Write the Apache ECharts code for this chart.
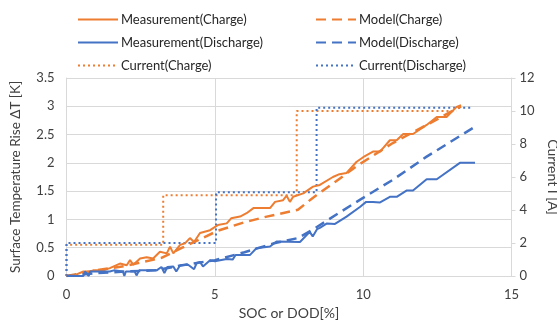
<!DOCTYPE html>
<html>
<head>
<meta charset="utf-8">
<script src="https://cdn.jsdelivr.net/npm/echarts@6/dist/echarts.min.js"></script>
<style>
  html, body { margin: 0; padding: 0; background: #fff; }
  #chart { width: 557px; height: 320px; }
</style>
</head>
<body>
<div id="chart"></div>
<script>
// 数据
const measChargeX = [0, 0.3, 0.57, 0.8, 0.9, 1.24, 1.46, 1.8, 2.03, 2.14, 2.25, 2.48, 2.7, 2.92, 3.15, 3.38, 3.49, 3.6, 3.83, 4.0, 4.16, 4.3, 4.5, 4.84, 5.1, 5.4, 5.55, 5.85, 6.07, 6.3, 6.86, 7.03, 7.3, 7.42, 7.53, 7.64, 7.98, 8.31, 8.54, 8.98, 9.2, 9.44, 9.78, 10.0, 10.33, 10.57, 10.9, 11.13, 11.35, 11.68, 12.14, 12.48, 12.81, 13.15, 13.3];
const measChargeY = [0, 0.02, 0.08, 0.08, 0.1, 0.1, 0.14, 0.22, 0.19, 0.28, 0.2, 0.31, 0.33, 0.31, 0.43, 0.4, 0.52, 0.4, 0.55, 0.58, 0.67, 0.6, 0.76, 0.81, 0.9, 0.93, 1.02, 1.05, 1.11, 1.2, 1.2, 1.31, 1.34, 1.42, 1.31, 1.4, 1.46, 1.58, 1.61, 1.75, 1.8, 1.82, 2.02, 2.1, 2.2, 2.2, 2.4, 2.4, 2.51, 2.51, 2.67, 2.81, 2.81, 2.99, 3.02];

const modelChargeX = [0, 1, 2, 3.2, 3.9, 5.1, 6.0, 6.75, 7.8, 8.3, 9.1, 9.8, 11, 12.14, 13.3];
const modelChargeY = [0, 0.1, 0.18, 0.32, 0.5, 0.8, 0.95, 1.05, 1.17, 1.38, 1.68, 1.95, 2.35, 2.67, 3.0];

const measDischargeX = [0, 0.57, 0.62, 0.75, 0.8, 1.46, 1.6, 1.9, 1.95, 2.0, 2.3, 2.36, 2.45, 2.7, 3.04, 3.2, 3.3, 3.4, 3.6, 3.7, 3.83, 4.1, 4.3, 4.39, 4.5, 4.6, 4.84, 5.0, 5.4, 5.6, 5.7, 6.18, 6.4, 6.86, 7.08, 7.87, 8.2, 8.3, 8.45, 8.54, 8.78, 9.05, 9.44, 9.89, 10.1, 10.33, 10.57, 10.9, 11.13, 11.46, 11.68, 12.14, 12.48, 13.26, 13.77];
const measDischargeY = [0, 0, 0.08, 0.0, 0.08, 0.08, 0.1, 0.08, 0.0, 0.08, 0.08, 0.01, 0.1, 0.1, 0.1, 0.16, 0.05, 0.16, 0.17, 0.08, 0.19, 0.2, 0.12, 0.23, 0.25, 0.17, 0.28, 0.26, 0.3, 0.29, 0.37, 0.37, 0.49, 0.52, 0.61, 0.6, 0.78, 0.7, 0.83, 0.85, 0.93, 0.92, 1.05, 1.22, 1.31, 1.31, 1.3, 1.4, 1.4, 1.51, 1.51, 1.71, 1.71, 2.0, 2.0];

const modelDischargeX = [0, 1, 2, 3, 4, 5, 6, 7, 7.8, 8.3, 9.2, 9.9, 11, 12.14, 13.77];
const modelDischargeY = [0, 0.05, 0.08, 0.1, 0.2, 0.28, 0.42, 0.58, 0.67, 0.82, 1.12, 1.35, 1.7, 2.11, 2.64];

const currChargeX = [0, 0, 3.26, 7.76, 13.15];
const currChargeY = [0, 1.9, 4.9, 10.0, 10.0];
const currDischargeX = [0, 0, 5.04, 8.43, 13.66];
const currDischargeY = [0, 2.0, 5.07, 10.2, 10.2];

const ORANGE = '#ED7D31';
const BLUE = '#4472C4';
const FONT = 'Lato';

function pairs(xs, ys) {
    return xs.map((x, i) => [x, ys[i]]);
}

const chart = echarts.init(document.getElementById('chart'));

const legendCommon = {
    orient: 'vertical',
    itemWidth: 40,
    itemHeight: 12,
    itemGap: 10,
    itemStyle: { opacity: 0 },
    textStyle: { fontFamily: FONT, fontSize: 13, color: '#262626', padding: [0, 0, 0, -2] },
    selectedMode: false
};

const option = {
    animation: false,
    textStyle: { fontFamily: FONT },
    legend: [
        Object.assign({ left: 72, top: 8, data: ['Measurement(Charge)', 'Measurement(Discharge)', 'Current(Charge)'] }, legendCommon),
        Object.assign({ left: 310, top: 8, data: ['Model(Charge)', 'Model(Discharge)', 'Current(Discharge)'] }, legendCommon)
    ],
    grid: { left: 66.5, right: 45.5, top: 78, bottom: 44, outerBoundsMode: 'none', containLabel: false },
    xAxis: {
        type: 'value',
        min: 0, max: 15, interval: 5,
        name: 'SOC or DOD[%]',
        nameLocation: 'middle',
        nameGap: 30,
        nameTextStyle: { fontFamily: FONT, fontSize: 14, color: '#404040' },
        axisLine: { lineStyle: { color: '#D9D9D9' } },
        axisTick: { show: false },
        axisLabel: { fontFamily: FONT, fontSize: 13, color: '#404040', margin: 12 },
        splitLine: { lineStyle: { color: '#D9D9D9' } }
    },
    yAxis: [
        {
            type: 'value',
            min: 0, max: 3.5, interval: 0.5,
            name: 'Surface Temperature Rise ΔT [K]',
            nameLocation: 'middle',
            nameGap: 44,
            nameTextStyle: { fontFamily: FONT, fontSize: 13.5, color: '#404040' },
            axisLine: { show: true, lineStyle: { color: '#D9D9D9' } },
            axisTick: { show: false },
            axisLabel: { fontFamily: FONT, fontSize: 13, color: '#404040', margin: 12 },
            splitLine: { lineStyle: { color: '#D9D9D9' } }
        },
        {
            type: 'value',
            min: 0, max: 12, interval: 2,
            name: 'Current I [A]',
            nameLocation: 'middle',
            nameGap: 30,
            nameRotate: -90,
            nameTextStyle: { fontFamily: FONT, fontSize: 14, color: '#404040' },
            axisLine: { show: true, lineStyle: { color: '#D9D9D9' } },
            axisTick: { show: true, length: 4, lineStyle: { color: '#D9D9D9' } },
            axisLabel: { fontFamily: FONT, fontSize: 13, color: '#404040', margin: 8 },
            splitLine: { show: false }
        }
    ],
    series: [
        {
            name: 'Measurement(Charge)', type: 'line', showSymbol: false, symbol: 'none',
            data: pairs(measChargeX, measChargeY),
            lineStyle: { color: ORANGE, width: 2 }, itemStyle: { color: ORANGE }, z: 5
        },
        {
            name: 'Measurement(Discharge)', type: 'line', showSymbol: false, symbol: 'none',
            data: pairs(measDischargeX, measDischargeY),
            lineStyle: { color: BLUE, width: 2 }, itemStyle: { color: BLUE }, z: 5
        },
        {
            name: 'Current(Charge)', type: 'line', yAxisIndex: 1, step: 'end', showSymbol: false, symbol: 'none',
            data: pairs(currChargeX, currChargeY),
            lineStyle: { color: ORANGE, width: 2, type: [2, 3] }, itemStyle: { color: ORANGE }, z: 3
        },
        {
            name: 'Model(Charge)', type: 'line', showSymbol: false, symbol: 'none',
            data: pairs(modelChargeX, modelChargeY),
            lineStyle: { color: ORANGE, width: 2.5, type: [10, 6] }, itemStyle: { color: ORANGE }, z: 4
        },
        {
            name: 'Model(Discharge)', type: 'line', showSymbol: false, symbol: 'none',
            data: pairs(modelDischargeX, modelDischargeY),
            lineStyle: { color: BLUE, width: 2.5, type: [10, 6] }, itemStyle: { color: BLUE }, z: 4
        },
        {
            name: 'Current(Discharge)', type: 'line', yAxisIndex: 1, step: 'end', showSymbol: false, symbol: 'none',
            data: pairs(currDischargeX, currDischargeY),
            lineStyle: { color: BLUE, width: 2, type: [2, 3] }, itemStyle: { color: BLUE }, z: 3
        }
    ]
};

chart.setOption(option);
</script>
</body>
</html>
